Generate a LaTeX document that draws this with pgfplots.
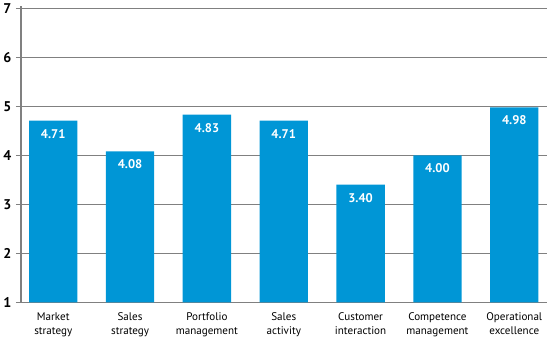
\documentclass[border=0pt]{standalone}
\usepackage{fontspec}
\setmainfont{PT Sans}
\usepackage{pgfplots}
\pgfplotsset{compat=1.18}
\definecolor{barblue}{RGB}{0,150,214}
\definecolor{gridgray}{RGB}{128,128,128}
\begin{document}
\begin{tikzpicture}[x=1pt,y=1pt]
\begin{axis}[
  scale only axis,
  width=522pt, height=292pt,
  ymin=1, ymax=7,
  xmin=-0.42, xmax=6.42,
  ytick={1,2,3,4,5,6,7},
  xtick=data,
  xticklabels={{Market\\strategy},{Sales\\strategy},{Portfolio\\management},{Sales\\activity},{Customer\\interaction},{Competence\\management},{Operational\\excellence}},
  xticklabel style={align=center, font=\fontsize{11}{13.5}\selectfont, text=black, yshift=-7pt},
  yticklabel style={font=\fontsize{14}{16}\selectfont\bfseries, text=black, xshift=-1pt},
  /pgf/number format/assume math mode=true,
  axis line style={draw=none},
  ymajorgrids,
  grid style={gridgray, line width=0.9pt},
  major tick length=5pt,
  ytick style={gridgray, line width=0.9pt},
  xtick style={draw=none},
  xtick pos=left, ytick pos=left,
  ytick align=outside,
  clip=false,
  extra description/.code={
    \draw[gridgray, line width=1.6pt] (axis cs:-0.42,1) -- (axis cs:-0.42,7.05);
  },
]
\addplot[ybar, bar width=48pt, fill=barblue, draw=none,
  nodes near coords,
  every node near coord/.append style={anchor=north, yshift=-5pt, text=white, font=\fontsize{12.5}{14}\selectfont\bfseries},
  point meta=explicit symbolic]
  coordinates {(0,4.71)[4.71] (1,4.08)[4.08] (2,4.83)[4.83] (3,4.71)[4.71] (4,3.40)[3.40] (5,4.00)[4.00] (6,4.98)[4.98]};
\end{axis}
\end{tikzpicture}
\end{document}
